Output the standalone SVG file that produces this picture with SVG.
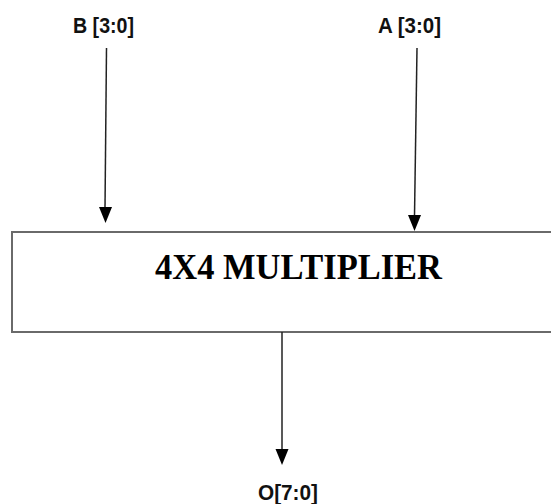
<svg xmlns="http://www.w3.org/2000/svg" width="551" height="504" viewBox="0 0 551 504">
<style>
.lbl{font-family:"Liberation Sans",Arial,sans-serif;font-weight:bold;font-size:22px;fill:#111}
.title{font-family:"Liberation Serif","Times New Roman",serif;font-weight:bold;font-size:36px;fill:#000}
.wire{stroke:#222;stroke-width:1.5;fill:none}
.box{fill:#fff;stroke:#6a6a6a;stroke-width:2}
</style>
<g id="multiplier">
<rect class="box" x="12" y="232" width="560" height="100"/>
<text class="title" x="298.5" y="279" text-anchor="middle" textLength="287" lengthAdjust="spacingAndGlyphs">4X4 MULTIPLIER</text>
</g>
<g id="inputB"><text class="lbl" x="73" y="33" textLength="61" lengthAdjust="spacingAndGlyphs">B [3:0]</text></g>
<g id="inputA"><text class="lbl" x="378" y="33" textLength="63" lengthAdjust="spacingAndGlyphs">A [3:0]</text></g>
<g id="outputO"><text class="lbl" x="258" y="500" textLength="60" lengthAdjust="spacingAndGlyphs">O[7:0]</text></g>
<g id="connectors">
<path class="wire" d="M106.5,48 L105,208"/>
<path d="M99,207 L112,207 L105.5,223 Z" fill="#000"/>
<path class="wire" d="M417,48 L414.5,216"/>
<path d="M408,215 L421,215 L414.5,231 Z" fill="#000"/>
<path class="wire" d="M282,332 L282,450"/>
<path d="M275.5,449 L288.5,449 L282,465 Z" fill="#000"/>
</g>
</svg>
